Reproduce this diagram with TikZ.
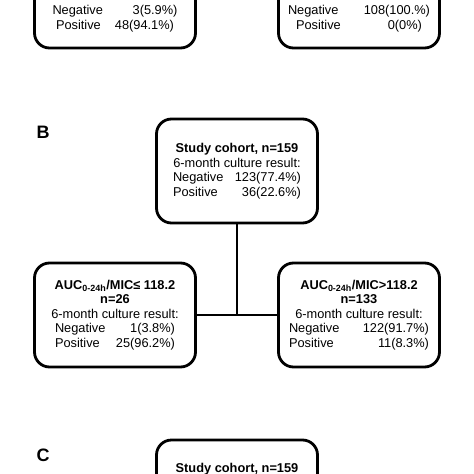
\documentclass[tikz,border=0pt]{standalone}
\usepackage{fontspec}
\setmainfont{Liberation Sans}
\newcommand\resrow[3]{\makebox[#1]{#2\hfill#3}}
\tikzset{
   box/.style={draw, line width=2.8pt, rounded corners=15pt, minimum width=161pt,
      minimum height=104pt, align=center, font=\fontsize{12.8}{14.5}\selectfont},
   plain/.style={align=center, font=\fontsize{12.8}{14.5}\selectfont},
   panel/.style={font=\fontsize{18}{20}\selectfont\bfseries},
   link/.style={line width=2.8pt}
}
\begin{document}
\begin{tikzpicture}[x=1pt, y=-1pt]
      \path[use as bounding box, clip] (0,0) rectangle (474,474);
      \foreach \l / \y in {B/132, C/455} {
         \node[panel] (lab\l) at (43,\y) {\l};
      }
      \node[box] (a1) at (115,-4) {};
      \node[plain] (a1t) at (115,18.5) {\resrow{125pt}{Negative}{3(5.9\%)}\\
         \resrow{118pt}{Positive}{48(94.1\%)}};
      \node[box] (a2) at (359,-4) {};
      \node[plain] (a2t) at (359,18.5) {\resrow{142pt}{Negative}{108(100.\%)}\\
         \resrow{126pt}{Positive}{0(0\%)}};
      \node[box] (b) at (237,171) {\textbf{Study cohort, n=159}\\
         6-month culture result:\\
         \resrow{128pt}{Negative}{123(77.4\%)}\\
         \resrow{128pt}{Positive}{36(22.6\%)}};
      \node[box] (l) at (115,315) {\textbf{AUC\textsubscript{0-24h}/MIC≤ 118.2}\\
         \textbf{n=26}\\
         6-month culture result:\\
         \resrow{120pt}{Negative}{1(3.8\%)}\\
         \resrow{120pt}{Positive}{25(96.2\%)}};
      \node[box] (r) at (359,315) {\textbf{AUC\textsubscript{0-24h}/MIC>118.2}\\
         \textbf{n=133}\\
         6-month culture result:\\
         \resrow{140pt}{Negative}{122(91.7\%)}\\
         \resrow{140pt}{Positive}{11(8.3\%)}};
      \node[box] (c) at (237,492) {};
      \node[plain, font=\fontsize{12.8}{14.5}\selectfont\bfseries] (ct) at (237,469) {Study cohort, n=159};
      \draw[link] (b.south) -- (b.south |- l.east);
      \draw[link] (l.east) -- (r.west);
   \end{tikzpicture}
\end{document}
